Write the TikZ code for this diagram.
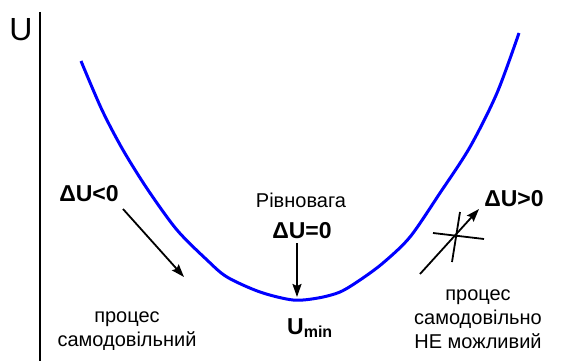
\documentclass[tikz,border=0pt]{standalone}
\usepackage{fontspec}
\setmainfont{Liberation Sans}
\usetikzlibrary{arrows.meta}
\definecolor{curveblue}{RGB}{0,0,255}
\tikzset{
  axis/.style={line width=1.3pt},
  well/.style={draw=curveblue,line width=3pt,line join=round},
  label/.style={inner sep=0pt,align=center,font=\fontsize{20}{24}\selectfont},
  delta/.style={inner sep=0pt,font=\fontsize{23}{27}\selectfont\bfseries},
  move/.style={-{Stealth[length=13pt,width=9pt,inset=2pt]},line width=1.8pt},
  cross/.style={line width=1.8pt}
}
\begin{document}
\begin{tikzpicture}[x=1pt,y=-1pt]
  \useasboundingbox (0,0) rectangle (573,361);

  % Energy axis.
  \coordinate (top) at (40,12);
  \coordinate (bottom) at (40,361);
  \draw[axis] (top) -- (bottom);
  \node[inner sep=0pt,font=\fontsize{32}{36}\selectfont] (ulab) at (21,30) {U};

  % Potential well.
  \draw[well] plot[smooth,tension=0.5] coordinates {
    (81,61) (102,110) (123,150) (148,190) (177,230) (207,260) (227,277)
    (260,292) (293,300) (318,298) (340,292) (360,280) (383,263) (410,237)
    (440,193) (470,147) (497,93) (519,33)};

  % Left side: spontaneous.
  \node[delta] (dneg) at (89,194) {ΔU<0};
  \coordinate (negtail) at (123,209);
  \coordinate (neghead) at (184,277);
  \draw[move] (negtail) -- (neghead);
  \node[label] (spont) at (127,331) {процес\\самодовільний};

  % Equilibrium.
  \node[label] (equil) at (301,200) {Рівновага};
  \node[delta] (dzero) at (302,231) {ΔU=0};
  \coordinate (minpt) at (297,297);
  \draw[move] (dzero.south -| minpt) ++(0,4) -- (minpt);
  \node[delta,anchor=base west] (umin) at (287,334) {U\textsubscript{\fontsize{16}{18}\selectfont min}};

  % Right side: not spontaneous.
  \node[delta] (dpos) at (514,199) {ΔU>0};
  \coordinate (postail) at (420,274);
  \coordinate (poshead) at (479,209);
  \draw[move] (postail) -- (poshead);
  \coordinate (c1) at (433,233);
  \coordinate (c2) at (484,239);
  \coordinate (c3) at (460,212);
  \coordinate (c4) at (452,262);
  \draw[cross] (c1) -- (c2);
  \draw[cross] (c3) -- (c4);
  \node[label] (nonspont) at (478,319) {процес\\самодовільно\\НЕ можливий};
\end{tikzpicture}
\end{document}
